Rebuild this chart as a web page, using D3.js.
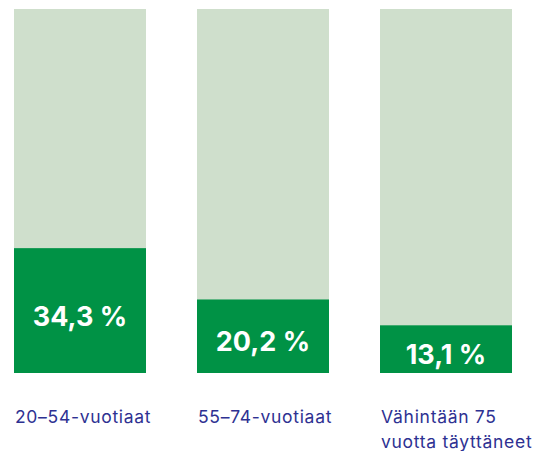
<!DOCTYPE html>
<html>
<head>
<meta charset="utf-8">
<script src="https://cdn.jsdelivr.net/npm/d3@7"></script>
<style>
  body { margin: 0; background: #fff; }
  svg { display: block; }
</style>
</head>
<body>
<svg id="chart" width="541" height="451"></svg>
<script>
const categories = ["20–54-vuotiaat", "55–74-vuotiaat", "Vähintään 75\nvuotta täyttäneet"]
const values = [34.3, 20.2, 13.1]
const valueLabels = ["34,3 %", "20,2 %", "13,1 %"]
const maxValue = 100

const width = 541
const height = 451
const margin = {top: 9, right: 29, bottom: 78, left: 14}
const innerW = width - margin.left - margin.right
const innerH = height - margin.top - margin.bottom

const svg = d3.select("#chart")
const g = svg.append("g")
    .attr("transform", "translate(" + margin.left + "," + margin.top + ")")

const x = d3.scaleBand()
    .domain(categories)
    .range([0, innerW])
    .paddingInner(51 / 183)
    .paddingOuter(0)

const y = d3.scaleLinear()
    .domain([0, maxValue])
    .range([innerH, 0])

const data = categories.map((c, i) => ({cat: c, value: values[i], label: valueLabels[i]}))

// background (full scale) bars
g.selectAll(".bg")
    .data(data)
    .enter()
    .append("rect")
    .attr("class", "bg")
    .attr("x", d => x(d.cat))
    .attr("y", y(maxValue))
    .attr("width", x.bandwidth())
    .attr("height", innerH - y(maxValue))
    .attr("fill", "#cfdfcc")

// value bars
g.selectAll(".bar")
    .data(data)
    .enter()
    .append("rect")
    .attr("class", "bar")
    .attr("x", d => x(d.cat))
    .attr("y", d => y(d.value))
    .attr("width", x.bandwidth())
    .attr("height", d => innerH - y(d.value))
    .attr("fill", "#009245")

// value labels inside bars
g.selectAll(".val")
    .data(data)
    .enter()
    .append("text")
    .attr("class", "val")
    .attr("x", d => x(d.cat) + x.bandwidth() / 2)
    .attr("y", d => y(d.value / 2) + 15)
    .attr("text-anchor", "middle")
    .attr("fill", "#fff")
    .attr("font-family", "Inter, sans-serif")
    .attr("font-weight", 700)
    .attr("font-size", 27)
    .text(d => d.label)

// category labels below
const cat = g.selectAll(".cat")
    .data(data)
    .enter()
    .append("text")
    .attr("class", "cat")
    .attr("x", d => x(d.cat) + 1)
    .attr("y", innerH + 50)
    .attr("fill", "#2e3192")
    .attr("font-family", "Inter, sans-serif")
    .attr("font-size", 17.5)
    .attr("letter-spacing", 0.7)

cat.selectAll("tspan")
    .data(d => d.cat.split("\n"))
    .enter()
    .append("tspan")
    .attr("x", function() { return d3.select(this.parentNode).attr("x") })
    .attr("dy", (d, i) => i === 0 ? 0 : 24.5)
    .text(d => d)
</script>
</body>
</html>
